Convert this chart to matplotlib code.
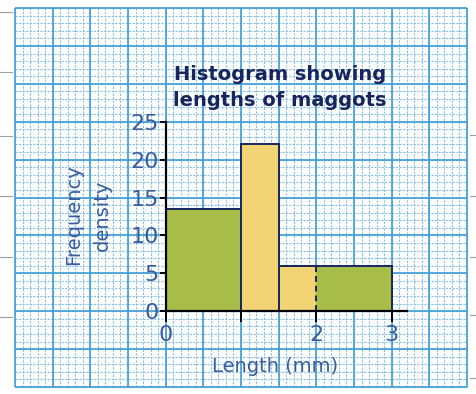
import numpy as np
import matplotlib.pyplot as plt

# histogram: bin edges (mm) and frequency density
edges = [0, 1, 1.5, 2, 3]
density = [13.5, 22, 6, 6]
bar_colours = ['#a8bc48', '#f2d474', '#f2d474', '#a8bc48']
y_ticks = [0, 5, 10, 15, 20, 25]
x_ticks = [0, 1, 2, 3]
x_tick_labels = ['0', '', '2', '3']

title = 'Histogram showing\nlengths of maggots'
ylabel = 'Frequency\ndensity'
xlabel = 'Length (mm)'

navy = '#17255e'
ink = '#3a5c9c'

fig = plt.figure(figsize=(4.77, 3.94), dpi=100)
ax = fig.add_axes([0, 0, 1, 1])
ax.set_xlim(-2.199, 4.133)
ax.set_ylim(-10.92, 41.06)
ax.set_facecolor('white')

# graph paper: solid major squares, dashed minor lines
major_x = np.arange(-2, 4.01, 0.5)
minor_x = np.arange(-2, 4.01, 0.1)
major_y = np.arange(-10, 40.1, 5)
minor_y = np.arange(-10, 40.1, 1)
ax.vlines(minor_x, -10, 40, colors='#86c0e8', linewidth=0.8,
          linestyles=(0, (2, 1.2)), zorder=0)
ax.hlines(minor_y, -2, 4, colors='#86c0e8', linewidth=0.8,
          linestyles=(0, (2, 1.2)), zorder=0)
ax.vlines(major_x, -10, 40, colors='#3d9ed8', linewidth=1.2, zorder=0.5)
ax.hlines(major_y, -2, 4, colors='#3d9ed8', linewidth=1.2, zorder=0.5)

# small grey marks in the margin
for yy in [39.5, 31.6, 23.1, 15.2, 7.2, -0.8]:
    ax.plot([-2.2, -2.04], [yy, yy], color='#9aa0a8', lw=0.8, zorder=0)
for yy in [23.3, 15.2, 7.2, -0.5, -8.8]:
    ax.plot([4.04, 4.14], [yy, yy], color='#9aa0a8', lw=0.8, zorder=0)

# bars
widths = np.diff(edges)
ax.bar(edges[:-1], density, width=widths, align='edge', color=bar_colours,
       edgecolor='none', zorder=2)
ax.stairs(density, edges, baseline=0, color=navy, lw=1.4, zorder=3)
inner = edges[1:-1]
inner_h = [min(a, b) for a, b in zip(density[:-1], density[1:])]
ax.vlines(inner[:2], 0, inner_h[:2], colors=navy, lw=1.4, zorder=3)
ax.vlines(inner[2:], 0, inner_h[2:], colors=navy, lw=1.4,
          linestyles=(0, (3, 2)), zorder=3)

# axes lines through the origin
for side in ['top', 'right']:
    ax.spines[side].set_visible(False)
ax.spines['left'].set_position(('data', 0))
ax.spines['bottom'].set_position(('data', 0))
ax.spines['left'].set_bounds(0, 25)
ax.spines['bottom'].set_bounds(0, 3.2)
ax.spines['left'].set_linewidth(1.6)
ax.spines['bottom'].set_linewidth(1.6)
ax.spines['left'].set_zorder(4)
ax.spines['bottom'].set_zorder(4)

ax.set_yticks(y_ticks)
ax.set_xticks(x_ticks)
ax.set_xticklabels(x_tick_labels)
ax.tick_params(axis='y', direction='out', length=4, width=1.4, pad=1,
               labelsize=16, labelcolor=ink)
ax.tick_params(axis='x', direction='out', length=8, width=1.4, pad=2,
               labelsize=16, labelcolor=ink)

ax.text(1.517, 29.5, title, ha='center', va='center', fontsize=14,
        fontweight='bold', color=navy, linespacing=1.45)
ax.text(-1.03, 12.7, ylabel, ha='center', va='center', fontsize=14,
        rotation=90, color=ink, linespacing=1.6)
ax.text(1.45, -7.35, xlabel, ha='center', va='center', fontsize=14,
        color=ink)

fig.savefig('out.png', dpi=100)
